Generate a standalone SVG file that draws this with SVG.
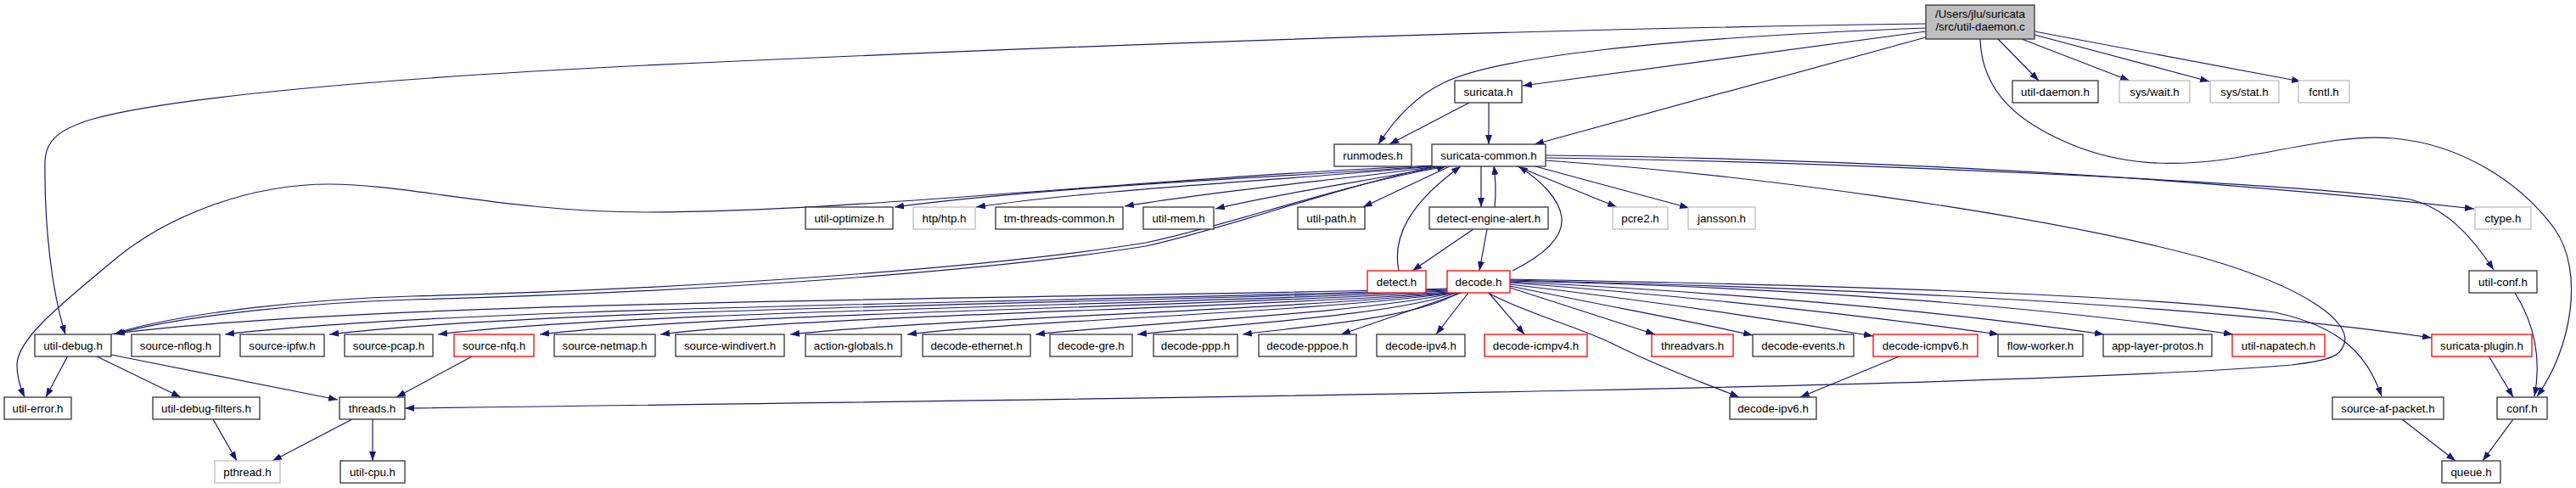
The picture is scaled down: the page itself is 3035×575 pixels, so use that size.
<svg xmlns="http://www.w3.org/2000/svg" width="3035" height="575" viewBox="0 0 3035 575">
<style>
rect{fill:#fff;stroke-width:1.3}
.k rect{stroke:#333}
.r rect{stroke:#ff0000}
.g rect{stroke:#bfbfbf}
.root rect{fill:#bfbfbf;stroke:#333}
text{font-family:"Liberation Sans",Arial,sans-serif;font-size:13.33px;text-anchor:middle;fill:#000}
#edges path{fill:none;stroke:#191970;stroke-width:1.2;marker-end:url(#a)}
</style>
<defs>
<marker id="a" markerWidth="11" markerHeight="8" refX="11" refY="4" orient="auto" markerUnits="userSpaceOnUse"><path d="M0,0 L11,4 L0,8 z" fill="#191970"/></marker>
</defs>
<g id="edges">
<path d="M2269,28 C1800,34 1300,52 760,77 C450,92 200,115 110,140 C70,152 54,165 53,190 C52,260 60,340 77,394"/>
<path d="M2269,33 C1950,45 1760,68 1700,98 C1665,115 1640,145 1624,170"/>
<path d="M2269,37 L1794,101"/>
<path d="M2269,44 L1808,170"/>
<path d="M2354,46 L2402,95"/>
<path d="M2382,46 L2509,95"/>
<path d="M2397,41 L2603,96"/>
<path d="M2397,37 L2711,96"/>
<path d="M2333,46 C2335,110 2380,145 2440,170 C2500,195 2560,196 2620,188 C2700,176 2760,158 2820,163 C2900,170 2970,215 3010,270 C3045,320 3030,410 2989,467"/>
<path d="M1731,121 L1637,170"/>
<path d="M1754,121 L1754,170"/>
<path d="M1695,195 C1550,207 1250,218 1054,244"/>
<path d="M1698,195 C1550,210 1300,222 1150,244"/>
<path d="M1700,195 C1600,210 1450,222 1325,243"/>
<path d="M1703,195 C1620,212 1520,225 1432,246"/>
<path d="M1710,195 L1606,244"/>
<path d="M1745,195 L1745,244"/>
<path d="M1761,244 C1763,225 1762,210 1760,195"/>
<path d="M1785,195 L1905,244"/>
<path d="M1805,195 L1990,245"/>
<path d="M1821,183 C2100,186 2500,200 2915,246"/>
<path d="M1821,186 C2150,190 2700,215 2840,235 C2880,245 2910,275 2938,318"/>
<path d="M1821,189 C2050,205 2400,250 2600,305 C2720,340 2770,380 2762,405 C2758,418 2750,424 2700,430 C2400,455 1500,468 477,481"/>
<path d="M1690,195 C1350,210 1000,250 760,250 C600,250 480,217 388,217 C300,217 200,250 130,310 C70,360 20,400 20,430 C20,445 24,457 29,468"/>
<path d="M1695,195 C1560,225 1450,268 1350,290 C1150,322 800,345 485,353 C380,356 220,370 134,394"/>
<path d="M131,394 C220,366 380,352 485,349 C800,341 1150,318 1350,286 C1450,265 1570,220 1704,196"/>
<path d="M131,418 L398,471"/>
<path d="M80,419 L54,468"/>
<path d="M112,419 L213,468"/>
<path d="M251,494 L279,543"/>
<path d="M415,494 L321,543"/>
<path d="M439,494 L439,543"/>
<path d="M558,419 L467,468"/>
<path d="M1736,270 L1664,319"/>
<path d="M1752,270 L1743,319"/>
<path d="M1648,319 C1640,280 1660,240 1721,196"/>
<path d="M1782,319 C1820,300 1842,280 1840,257 C1838,235 1815,212 1789,196"/>
<path d="M1705,340 C1300,352 450,352 136,393"/>
<path d="M1705,341 C1300,356 550,360 265,394"/>
<path d="M1706,342 C1300,358 650,363 388,394"/>
<path d="M1706,343 C1350,360 750,366 516,394"/>
<path d="M1707,344 C1400,362 850,369 636,394"/>
<path d="M1708,345 C1450,364 950,372 778,394"/>
<path d="M1710,345 C1500,366 1100,376 931,394"/>
<path d="M1712,345 C1550,368 1200,378 1069,394"/>
<path d="M1714,345 C1600,370 1350,380 1220,394"/>
<path d="M1716,345 C1640,372 1450,382 1340,394"/>
<path d="M1718,345 C1670,375 1540,384 1464,394"/>
<path d="M1722,345 L1580,394"/>
<path d="M1730,345 L1692,394"/>
<path d="M1754,345 L1796,394"/>
<path d="M1753,345 C1800,370 1860,385 1900,405 C1960,435 2010,452 2049,468"/>
<path d="M1779,339 L1950,394"/>
<path d="M1779,337 C1900,362 2000,380 2065,395"/>
<path d="M1779,335 C1950,355 2100,378 2207,396"/>
<path d="M1779,333 C2000,350 2200,372 2355,394"/>
<path d="M1779,332 C2050,345 2300,368 2479,394"/>
<path d="M1779,331 C2100,338 2400,360 2631,394"/>
<path d="M1779,330 C2200,340 2600,360 2865,398"/>
<path d="M1779,329 C2100,335 2500,345 2680,368 C2760,385 2790,420 2806,467"/>
<path d="M2963,345 C2985,380 2995,420 2986,467"/>
<path d="M2932,419 L2961,468"/>
<path d="M2830,494 L2893,543"/>
<path d="M2961,494 L2925,543"/>
<path d="M2240,419 L2121,468"/>
</g>
<g id="n0" class="root"><rect x="2269" y="6" width="128" height="40"/><text x="2333" y="21">/Users/jlu/suricata</text><text x="2333" y="36">/src/util-daemon.c</text></g>
<g id="n_util_daemon" class="k"><rect x="2371" y="95" width="101" height="26"/><text x="2421.5" y="112.5">util-daemon.h</text></g>
<g id="n_sys_wait" class="g"><rect x="2497" y="95" width="83" height="26"/><text x="2538.5" y="112.5">sys/wait.h</text></g>
<g id="n_sys_stat" class="g"><rect x="2604" y="95" width="81" height="26"/><text x="2644.5" y="112.5">sys/stat.h</text></g>
<g id="n_fcntl" class="g"><rect x="2708" y="95" width="60" height="26"/><text x="2738" y="112.5">fcntl.h</text></g>
<g id="n_suricata" class="k"><rect x="1714" y="95" width="79" height="26"/><text x="1753.5" y="112.5">suricata.h</text></g>
<g id="n_runmodes" class="k"><rect x="1572" y="170" width="91" height="26"/><text x="1617.5" y="187.5">runmodes.h</text></g>
<g id="n_sc" class="k"><rect x="1687" y="170" width="134" height="26"/><text x="1754" y="187.5">suricata-common.h</text></g>
<g id="n_util_optimize" class="k"><rect x="949" y="244" width="103" height="26"/><text x="1000.5" y="261.5">util-optimize.h</text></g>
<g id="n_htp" class="g"><rect x="1076" y="244" width="73" height="26"/><text x="1112.5" y="261.5">htp/htp.h</text></g>
<g id="n_tm_threads" class="k"><rect x="1173" y="244" width="150" height="26"/><text x="1248" y="261.5">tm-threads-common.h</text></g>
<g id="n_util_mem" class="k"><rect x="1347" y="244" width="83" height="26"/><text x="1388.5" y="261.5">util-mem.h</text></g>
<g id="n_util_path" class="k"><rect x="1529" y="244" width="79" height="26"/><text x="1568.5" y="261.5">util-path.h</text></g>
<g id="n_dea" class="k"><rect x="1684" y="244" width="140" height="26"/><text x="1754" y="261.5">detect-engine-alert.h</text></g>
<g id="n_pcre2" class="g"><rect x="1900" y="244" width="65" height="26"/><text x="1932.5" y="261.5">pcre2.h</text></g>
<g id="n_jansson" class="g"><rect x="1989" y="244" width="79" height="26"/><text x="2028.5" y="261.5">jansson.h</text></g>
<g id="n_ctype" class="g"><rect x="2916" y="244" width="66" height="26"/><text x="2949" y="261.5">ctype.h</text></g>
<g id="n_detect" class="r"><rect x="1611" y="319" width="69" height="26"/><text x="1645.5" y="336.5">detect.h</text></g>
<g id="n_decode" class="r"><rect x="1705" y="319" width="74" height="26"/><text x="1742" y="336.5">decode.h</text></g>
<g id="n_util_conf" class="k"><rect x="2909" y="319" width="80" height="26"/><text x="2949" y="336.5">util-conf.h</text></g>
<g id="n_util_debug" class="k"><rect x="41" y="394" width="90" height="26"/><text x="86" y="411.5">util-debug.h</text></g>
<g id="n_source_nflog" class="k"><rect x="155" y="394" width="104" height="26"/><text x="207" y="411.5">source-nflog.h</text></g>
<g id="n_source_ipfw" class="k"><rect x="283" y="394" width="99" height="26"/><text x="332.5" y="411.5">source-ipfw.h</text></g>
<g id="n_source_pcap" class="k"><rect x="406" y="394" width="104" height="26"/><text x="458" y="411.5">source-pcap.h</text></g>
<g id="n_source_nfq" class="r"><rect x="535" y="394" width="94" height="26"/><text x="582" y="411.5">source-nfq.h</text></g>
<g id="n_source_netmap" class="k"><rect x="653" y="394" width="119" height="26"/><text x="712.5" y="411.5">source-netmap.h</text></g>
<g id="n_source_windivert" class="k"><rect x="796" y="394" width="128" height="26"/><text x="860" y="411.5">source-windivert.h</text></g>
<g id="n_action_globals" class="k"><rect x="949" y="394" width="113" height="26"/><text x="1005.5" y="411.5">action-globals.h</text></g>
<g id="n_decode_ethernet" class="k"><rect x="1087" y="394" width="127" height="26"/><text x="1150.5" y="411.5">decode-ethernet.h</text></g>
<g id="n_decode_gre" class="k"><rect x="1237" y="394" width="97" height="26"/><text x="1285.5" y="411.5">decode-gre.h</text></g>
<g id="n_decode_ppp" class="k"><rect x="1359" y="394" width="99" height="26"/><text x="1408.5" y="411.5">decode-ppp.h</text></g>
<g id="n_decode_pppoe" class="k"><rect x="1483" y="394" width="115" height="26"/><text x="1540.5" y="411.5">decode-pppoe.h</text></g>
<g id="n_decode_ipv4" class="k"><rect x="1622" y="394" width="104" height="26"/><text x="1674" y="411.5">decode-ipv4.h</text></g>
<g id="n_decode_icmpv4" class="r"><rect x="1749" y="394" width="121" height="26"/><text x="1809.5" y="411.5">decode-icmpv4.h</text></g>
<g id="n_threadvars" class="r"><rect x="1946" y="394" width="96" height="26"/><text x="1994" y="411.5">threadvars.h</text></g>
<g id="n_decode_events" class="k"><rect x="2065" y="394" width="119" height="26"/><text x="2124.5" y="411.5">decode-events.h</text></g>
<g id="n_decode_icmpv6" class="r"><rect x="2207" y="394" width="123" height="26"/><text x="2268.5" y="411.5">decode-icmpv6.h</text></g>
<g id="n_flow_worker" class="k"><rect x="2354" y="394" width="100" height="26"/><text x="2404" y="411.5">flow-worker.h</text></g>
<g id="n_app_layer_protos" class="k"><rect x="2478" y="394" width="128" height="26"/><text x="2542" y="411.5">app-layer-protos.h</text></g>
<g id="n_util_napatech" class="r"><rect x="2630" y="394" width="109" height="26"/><text x="2684.5" y="411.5">util-napatech.h</text></g>
<g id="n_suricata_plugin" class="r"><rect x="2865" y="394" width="118" height="26"/><text x="2924" y="411.5">suricata-plugin.h</text></g>
<g id="n_util_error" class="k"><rect x="5" y="468" width="79" height="26"/><text x="44.5" y="485.5">util-error.h</text></g>
<g id="n_util_debug_filters" class="k"><rect x="180" y="468" width="126" height="26"/><text x="243" y="485.5">util-debug-filters.h</text></g>
<g id="n_threads" class="k"><rect x="400" y="468" width="77" height="26"/><text x="438.5" y="485.5">threads.h</text></g>
<g id="n_decode_ipv6" class="k"><rect x="2038" y="468" width="102" height="26"/><text x="2089" y="485.5">decode-ipv6.h</text></g>
<g id="n_source_af_packet" class="k"><rect x="2748" y="468" width="131" height="26"/><text x="2813.5" y="485.5">source-af-packet.h</text></g>
<g id="n_conf" class="k"><rect x="2942" y="468" width="59" height="26"/><text x="2971.5" y="485.5">conf.h</text></g>
<g id="n_pthread" class="g"><rect x="253" y="543" width="77" height="26"/><text x="291.5" y="560.5">pthread.h</text></g>
<g id="n_util_cpu" class="k"><rect x="401" y="543" width="76" height="26"/><text x="439" y="560.5">util-cpu.h</text></g>
<g id="n_queue" class="k"><rect x="2877" y="543" width="69" height="26"/><text x="2911.5" y="560.5">queue.h</text></g>
</svg>
